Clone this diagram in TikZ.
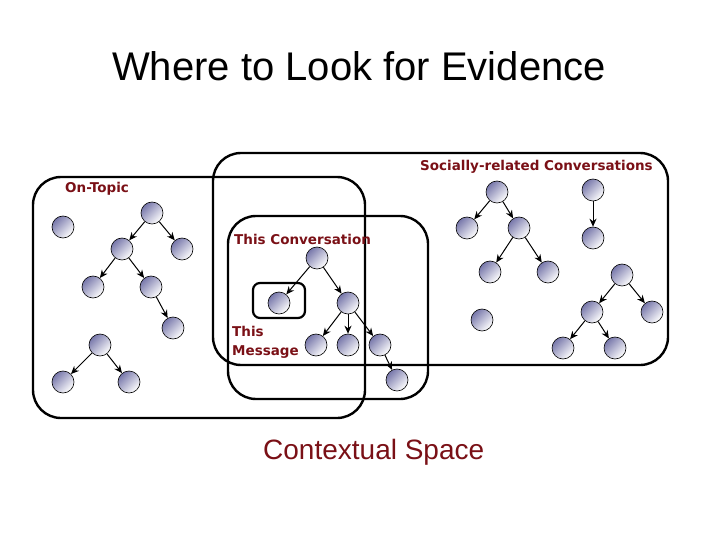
\documentclass[tikz,border=0pt]{standalone}
\usepackage{fontspec}
\setmainfont{Liberation Sans}
\newfontfamily\lblfont{DejaVu Sans}
\usetikzlibrary{arrows.meta}
\definecolor{lblred}{HTML}{7A1016}
\definecolor{balldark}{HTML}{7777AA}
\tikzset{
  frame/.style={draw, line width=2.4pt, rounded corners=28pt},
  msgframe/.style={draw, line width=2.2pt, rounded corners=7pt},
  ball/.style={circle, draw, line width=0.6pt, minimum size=22pt, inner sep=0pt,
    top color=balldark, bottom color=white, shading angle=45},
  link/.style={-{Stealth[length=8pt,width=7pt]}, line width=1pt},
  lbl/.style={text=lblred, font=\lblfont\bfseries\fontsize{13.5}{15}\selectfont, inner sep=0pt, anchor=base west}
}
\begin{document}
\begin{tikzpicture}[x=1pt,y=-1pt]
\useasboundingbox (0,0) rectangle (720,540);
% frames
\draw[frame] (213,153) rectangle (668,365);
\draw[frame] (33,177) rectangle (365,418);
\draw[frame] (228,216) rectangle (428,399);
\draw[msgframe] (253,283) rectangle (305,318);
% title
\node[font=\fontsize{40}{45}\selectfont, anchor=base] (title) at (359,81) {Where to Look for Evidence};
\node[font=\fontsize{28}{32}\selectfont, text=lblred, anchor=base west, inner sep=0pt] (ctx) at (263,459) {Contextual Space};
% labels
\node[lbl] (lsoc) at (420,171) {Socially-related Conversations};
\node[lbl] (ltop) at (65,193) {On-Topic};
\node[lbl] (lconv) at (234,244) {This Conversation};
\node[lbl] (lthis) at (232,336) {This};
\node[lbl] (lmsg) at (232,355) {Message};
% On-topic
\node[ball] (a1) at (63,227) {};
\node[ball] (a2) at (152,213) {};
\node[ball] (a3) at (122,249) {};
\node[ball] (a4) at (182,249) {};
\node[ball] (a5) at (93,287) {};
\node[ball] (a6) at (151,287) {};
\node[ball] (a7) at (173,328) {};
\node[ball] (b1) at (100,345) {};
\node[ball] (b2) at (63,382) {};
\node[ball] (b3) at (129,382) {};
\draw[link] (a2) -- (a3);
\draw[link] (a2) -- (a4);
\draw[link] (a3) -- (a5);
\draw[link] (a3) -- (a6);
\draw[link] (a6) -- (a7);
\draw[link] (b1) -- (b2);
\draw[link] (b1) -- (b3);
% this conversation
\node[ball] (c1) at (317,258) {};
\node[ball] (c2) at (279,303) {};
\node[ball] (c3) at (348,303) {};
\node[ball] (c4) at (316,345) {};
\node[ball] (c5) at (348,345) {};
\node[ball] (c6) at (380,345) {};
\node[ball] (c7) at (397,380) {};
\draw[link] (c1) -- (c2);
\draw[link] (c1) -- (c3);
\draw[link] (c3) -- (c4);
\draw[link] (c3) -- (c5);
\draw[link] (c3) -- (c6);
\draw[link] (c6) -- (c7);
% socially related
\node[ball] (d1) at (497,192) {};
\node[ball] (d2) at (467,228) {};
\node[ball] (d3) at (519,228) {};
\node[ball] (d4) at (490,272) {};
\node[ball] (d5) at (548,272) {};
\node[ball] (e1) at (593,190) {};
\node[ball] (e2) at (593,238) {};
\node[ball] (f1) at (482,320) {};
\node[ball] (g1) at (622,275) {};
\node[ball] (g2) at (592,312) {};
\node[ball] (g3) at (652,312) {};
\node[ball] (g4) at (563,348) {};
\node[ball] (g5) at (615,348) {};
\draw[link] (d1) -- (d2);
\draw[link] (d1) -- (d3);
\draw[link] (d3) -- (d4);
\draw[link] (d3) -- (d5);
\draw[link] (e1) -- (e2);
\draw[link] (g1) -- (g2);
\draw[link] (g1) -- (g3);
\draw[link] (g2) -- (g4);
\draw[link] (g2) -- (g5);
\end{tikzpicture}
\end{document}
